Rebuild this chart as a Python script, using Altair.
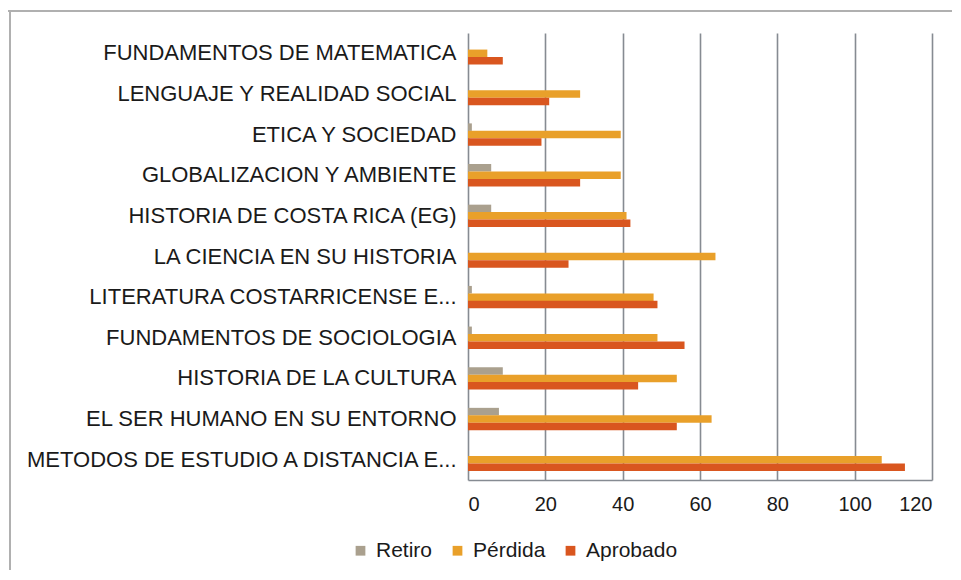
import altair as alt
import pandas as pd

categories = [
    "FUNDAMENTOS DE MATEMATICA",
    "LENGUAJE Y REALIDAD SOCIAL",
    "ETICA Y SOCIEDAD",
    "GLOBALIZACION Y AMBIENTE",
    "HISTORIA DE COSTA RICA (EG)",
    "LA CIENCIA EN SU HISTORIA",
    "LITERATURA COSTARRICENSE E...",
    "FUNDAMENTOS DE SOCIOLOGIA",
    "HISTORIA DE LA CULTURA",
    "EL SER HUMANO EN SU ENTORNO",
    "METODOS DE ESTUDIO A DISTANCIA E...",
]
series = ["Retiro", "Pérdida", "Aprobado"]
retiro = [0, 0, 1, 6, 6, 0, 1, 1, 9, 8, 0]
perdida = [5, 29, 39.5, 39.5, 41, 64, 48, 49, 54, 63, 107]
aprobado = [9, 21, 19, 29, 42, 26, 49, 56, 44, 54, 113]
colors = ["#aaa08e", "#e9a02a", "#d9561f"]
x_ticks = [0, 20, 40, 60, 80, 100, 120]

rows = []
for i, c in enumerate(categories):
    for s, vals in zip(series, [retiro, perdida, aprobado]):
        rows.append({"Curso": c, "Serie": s, "Valor": vals[i]})
df = pd.DataFrame(rows)

W, H = 464, 447
FONT = "Liberation Sans"

bars = alt.Chart(df).mark_bar(size=7.5).encode(
    y=alt.Y("Curso:N", sort=categories, title=None,
            scale=alt.Scale(paddingInner=0.45, paddingOuter=0.225),
            axis=alt.Axis(labelFontSize=22, labelColor="#1a1a1a", labelFont=FONT,
                          ticks=False, domain=False, labelPadding=12, labelLimit=460)),
    yOffset=alt.YOffset("Serie:N", sort=series, scale=alt.Scale(domain=series, paddingInner=0, paddingOuter=0)),
    x=alt.X("Valor:Q", title=None,
            scale=alt.Scale(domain=[0, 120], nice=False),
            axis=alt.Axis(values=x_ticks, grid=True, gridColor="#868b92", gridWidth=1.6,
                          domain=True, domainColor="#868b92", domainWidth=1.6,
                          ticks=False, labelFontSize=20, labelColor="#1a1a1a", labelFont=FONT,
                          labelPadding=14)),
    color=alt.Color("Serie:N", sort=series,
                    scale=alt.Scale(domain=series, range=colors),
                    legend=alt.Legend(title=None, orient="none", legendX=-118, legendY=507,
                                      direction="horizontal", symbolType="square",
                                      symbolSize=95, symbolStrokeWidth=0, labelFontSize=21,
                                      labelFont=FONT, labelColor="#1a1a1a",
                                      columnPadding=14, labelOffset=5)),
)

frame_top = alt.Chart(pd.DataFrame({"a": [0]})).mark_rule(color="#b0b0b0", strokeWidth=2, clip=False).encode(
    x=alt.value(-463), x2=alt.value(520), y=alt.value(-22)
)
frame_left = alt.Chart(pd.DataFrame({"a": [0]})).mark_rule(color="#b0b0b0", strokeWidth=2, clip=False).encode(
    x=alt.value(-458), y=alt.value(-22), y2=alt.value(560)
)

chart = alt.layer(bars, frame_top, frame_left).properties(
    width=W, height=H,
    autosize=alt.AutoSizeParams(type="none"),
    padding={"left": 460, "top": 25, "right": 20, "bottom": 90},
    background="white",
).configure_view(stroke=None)

chart.save("out.html", embed_options={"renderer": "svg", "actions": False})
